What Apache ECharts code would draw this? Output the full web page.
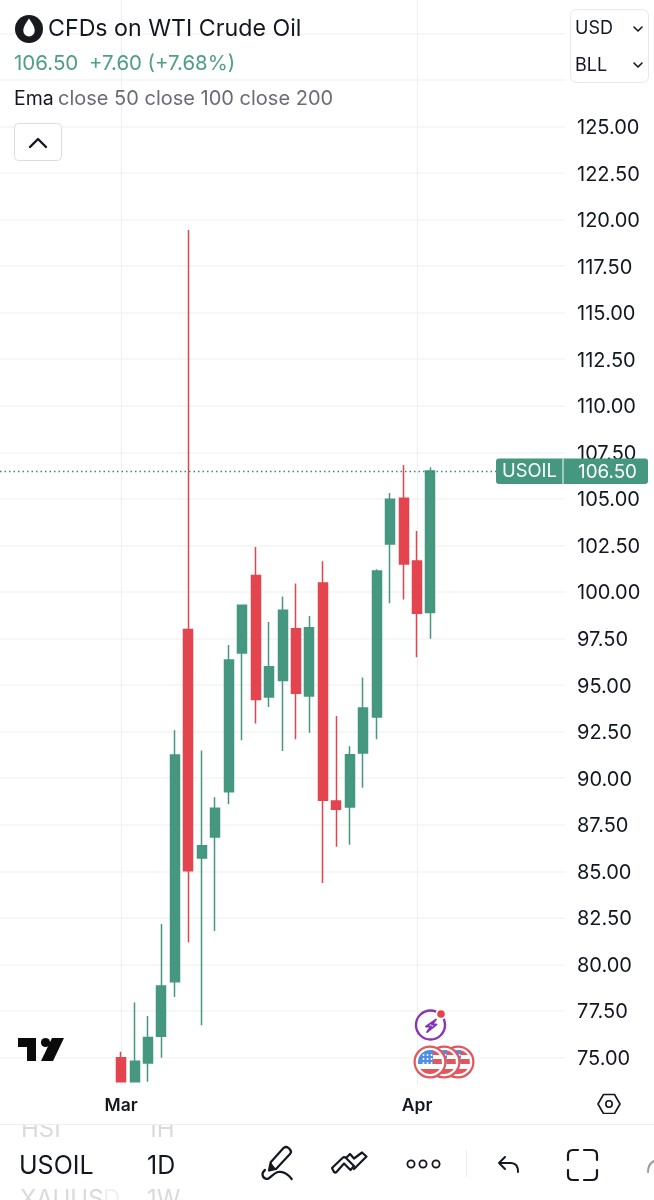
<!DOCTYPE html>
<html>
<head>
<meta charset="utf-8">
<title>USOIL 1D</title>
<style>
html, body { margin: 0; padding: 0; background: #fff; }
#chart { width: 654px; height: 1200px; }
</style>
<script src="https://cdn.jsdelivr.net/npm/echarts@6/dist/echarts.min.js"></script>
</head>
<body>
<div id="chart"></div>
<script>
// daily candles
var dates = ['03-02','03-03','03-04','03-05','03-06','03-09','03-10','03-11','03-12','03-13','03-16','03-17',
             '03-18','03-19','03-20','03-23','03-24','03-25','03-26','03-27','03-30','03-31','04-01','04-02'];
var opens  = [74.99,73.70,74.70,76.14,79.07,97.98,85.71,86.84,89.27,96.72,100.88,94.36,
              95.24,98.03,94.41,100.48,88.78,88.45,91.35,93.29,102.58,105.03,101.66,98.90];
var closes = [73.70,74.80,76.08,78.84,91.25,85.03,86.37,88.38,96.35,99.29,94.22,95.99,
              99.02,94.56,98.08,88.81,88.33,91.26,93.77,101.13,104.98,101.50,98.86,106.50];
var lows   = [73.70,73.70,73.70,74.99,78.25,81.19,76.73,81.79,88.60,92.04,92.93,93.82,
              91.46,92.09,92.44,84.37,86.32,86.43,89.49,92.09,99.39,99.59,96.49,97.49];
var highs  = [75.31,77.96,77.23,82.17,92.57,119.44,91.48,88.97,97.15,99.29,102.42,98.39,
              99.75,100.45,98.71,101.65,93.34,91.71,95.40,101.22,105.32,106.82,103.28,106.70];

var priceLabels = [75,77.5,80,82.5,85,87.5,90,92.5,95,97.5,100,102.5,105,107.5,110,112.5,115,117.5,120,122.5,125];
var gridLevels = priceLabels.concat([127.5,130]);
var monthTicks = { '03-02': 'Mar', '04-01': 'Apr' };
var lastPrice = 106.50;

var GREEN = '#45977f';
var RED = '#e4444e';
var INK = '#131722';
var FONT = 'Inter, "Noto Sans", sans-serif';

// empty days left and right of the candles
var padLeft = 9, padRight = 10;
var categories = [];
var i;
for (i = 0; i < padLeft; i++) categories.push('l' + i);
categories = categories.concat(dates);
for (i = 0; i < padRight; i++) categories.push('r' + i);

var candles = [];
for (i = 0; i < dates.length; i++) {
    candles.push([opens[i], closes[i], lows[i], highs[i]]);
}

function text(str, x, y, size, fill, opt) {
    opt = opt || {};
    return {
        type: 'text', z: opt.z || 10,
        style: {
            text: str, x: x, y: y, fill: fill,
            font: (opt.weight || 400) + ' ' + size + 'px ' + FONT,
            textAlign: opt.align || 'left', textVerticalAlign: 'middle'
        }
    };
}

// the graphic component has no path type, so every icon path gets its own shape
var shapeCount = 0;
function pathShape(path) {
    var name = 'icon' + (shapeCount++);
    echarts.graphic.registerShape(name, echarts.graphic.extendPath(path, {}));
    return name;
}
function stroke(path, color, width) {
    return {
        type: pathShape(path), z: 10,
        style: { fill: 'none', stroke: color, lineWidth: width, lineCap: 'round', lineJoin: 'round' }
    };
}
function solid(path, color, z) {
    return { type: pathShape(path), z: z || 10, style: { fill: color } };
}
function box(x, y, w, h, r, fill, line, z) {
    return {
        type: 'rect', z: z || 9, shape: { x: x, y: y, width: w, height: h, r: r },
        style: { fill: fill, stroke: line || 'none', lineWidth: 1 }
    };
}
function circle(cx, cy, r, fill, line, width, z) {
    return {
        type: 'circle', z: z || 10, shape: { cx: cx, cy: cy, r: r },
        style: { fill: fill, stroke: line || 'none', lineWidth: width || 1 }
    };
}

// one american flag coin of the calendar stack
function flag(cx, cy, z) {
    var out = [];
    out.push(circle(cx, cy, 15.4, '#fff', '#e2565c', 2.2, z));
    out.push(solid('M' + (cx - 9.75) + ' ' + (cy + 7) + 'A12 12 0 0 0 ' + (cx + 9.75) + ' ' + (cy + 7) + 'Z', '#e2565c', z));
    out.push(solid('M' + cx + ' ' + (cy - 12) + 'A12 12 0 0 1 ' + (cx + 9.75) + ' ' + (cy - 7) + 'H' + cx + 'Z', '#e2565c', z));
    out.push(solid('M' + cx + ' ' + (cy - 3) + 'H' + (cx + 11.6) + 'L' + (cx + 11.85) + ' ' + (cy + 2) + 'H' + cx + 'Z', '#e2565c', z));
    out.push(solid('M' + (cx + 3) + ' ' + (cy + 2) + 'H' + (cx - 11.85) + 'A12 12 0 0 1 ' + (cx + 3) + ' ' + (cy - 11.6) + 'Z', '#4f8ee0', z));
    var r, c;
    for (r = 0; r < 3; r++) {
        for (c = 0; c < 3; c++) {
            out.push(circle(cx - 6.5 + c * 4, cy - 7 + r * 4, 1, '#fff', null, 0, z));
        }
    }
    return out;
}

var chrome = [
    // header
    circle(29, 29, 14, '#181a20'),
    solid('M29 18.5C25.5 23.5 23.3 27 23.3 30.5A5.7 5.9 0 0 0 34.7 30.5C34.7 27 32.5 23.5 29 18.5Z', '#fff', 11),
    text('CFDs on WTI Crude Oil', 48, 29.5, 23.2, INK),
    text('106.50', 14, 64, 20.5, '#4f9e86'),
    text('+7.60 (+7.68%)', 89, 64, 20.4, '#4f9e86'),
    text('Ema', 14, 99, 19.5, INK),
    text('close 50 close 100 close 200', 58, 99, 20, '#6a6d78'),
    box(14.5, 123.5, 47, 37, 4, '#fff', '#dcdde0'),
    stroke('M30 147L38 139L46 147', INK, 2.4),
    // currency and unit switch
    box(570.5, 9.5, 78, 73, 6, '#fff', '#e6e7ea'),
    text('USD', 575, 28.5, 18, INK),
    text('BLL', 575, 65.5, 18, INK),
    stroke('M634 27L638 31L642 27', INK, 1.6),
    stroke('M634 63L638 67L642 63', INK, 1.6),
    // tradingview mark
    solid('M18 1038H36V1061H27V1047H18Z', '#0b0b0b'),
    circle(45.5, 1042.5, 4.6, '#0b0b0b'),
    solid('M52 1038H64L53 1061H41Z', '#0b0b0b'),
    // news badge
    circle(430.5, 1025, 14.5, '#fff', '#8a34b8', 2.4),
    stroke('M436 1019.5L426 1026.5H431L427 1032L436.5 1024.5H432Z', '#7b35b5', 1.8),
    circle(441, 1014, 5.5, '#fff', null, 0, 12),
    circle(441, 1014, 3.8, '#e4444e', null, 0, 13),
    // settings under the price scale
    stroke('M598 1104L603.5 1094.5H614.5L620 1104L614.5 1113.5H603.5Z', INK, 1.6),
    circle(609, 1104, 3.2, '#fff', INK, 1.6),
    // toolbar
    text('HSI', 21, 1130, 24, '#dadadd'),
    text('1H', 147, 1130, 24, '#dadadd'),
    box(0, 1114, 654, 10.5, 0, '#fff', null, 11),
    { type: 'line', z: 12, shape: { x1: 0, y1: 1124.5, x2: 654, y2: 1124.5 }, style: { stroke: '#eeeeee', lineWidth: 1 } },
    text('USOIL', 19, 1166, 25, INK),
    text('1D', 147, 1166, 25, INK),
    // the wheel fades out towards its edge
    text('XAUUS', 20, 1200, 24, '#dadadd'),
    text('D', 103, 1200, 24, '#f0f0f2'),
    text('1W', 147, 1200, 24, '#dadadd'),
    // pen and squiggle
    stroke('M270.7 1162.3L283.5 1148Q286 1146 288.5 1148L290 1149.5Q292 1152 290 1154L276 1169L269 1170.5Z', INK, 2.2),
    solid('M270.7 1162.3L276 1169L269 1170.5Z', INK),
    stroke('M265 1170C261 1173 262 1178 266.7 1179C270 1179 273 1173 278 1172C283 1171 288 1174 291.7 1179', INK, 2.2),
    // pattern tool
    stroke('M332 1168L343 1157.5Q344.5 1156.5 346 1158L354 1166L350.5 1170L344 1163.5L336.5 1172Q335.5 1173 334 1172Z', INK, 2.2),
    stroke('M347 1157L350 1154L354 1158.5L362 1152.5L366.5 1156.5L354 1169', INK, 2.2),
    circle(411, 1164, 3.6, '#fff', INK, 1.8),
    circle(423, 1164, 3.6, '#fff', INK, 1.8),
    circle(436, 1164, 3.6, '#fff', INK, 1.8),
    { type: 'line', z: 10, shape: { x1: 466.5, y1: 1150, x2: 466.5, y2: 1177 }, style: { stroke: '#eeeeee', lineWidth: 1 } },
    stroke('M505 1157L499 1163L505 1169 M499 1163H511Q518 1163 518 1172', INK, 2),
    stroke('M568 1160V1155Q568 1150 573 1150H578 M584 1150H592Q597 1150 597 1155V1160 M568 1170V1175Q568 1180 573 1180H578 M584 1180H592Q597 1180 597 1175V1170', INK, 2.2),
    stroke('M648 1172Q648 1164 654 1161', '#9a9ca3', 2)
];
chrome = chrome.concat(flag(458, 1062, 10), flag(444, 1062, 11), flag(430, 1062, 12));

var chart = echarts.init(document.getElementById('chart'), null, { renderer: 'canvas' });

// candlestick expects one row per category, so the padding days stay empty
var rows = [];
for (i = 0; i < categories.length; i++) {
    rows.push(i >= padLeft && i < padLeft + dates.length ? candles[i - padLeft] : '-');
}

chart.setOption({
    animation: false,
    backgroundColor: '#fff',
    grid: { left: 0, right: 89, top: 0, bottom: 115, outerBoundsMode: 'none' },
    xAxis: {
        type: 'category',
        data: categories,
        boundaryGap: false,
        axisLine: { show: false },
        axisTick: { show: false },
        axisLabel: {
            interval: 0, margin: 12, color: INK, fontFamily: FONT, fontSize: 17.5, fontWeight: 600,
            formatter: function (v) { return monthTicks[v] || ''; }
        },
        splitLine: {
            show: true,
            interval: function (idx, v) { return !!monthTicks[v]; },
            lineStyle: { color: '#eeeef1', width: 1 }
        }
    },
    yAxis: {
        type: 'value',
        position: 'right',
        min: 73.523,
        max: 131.79,
        scale: true,
        axisLine: { show: false },
        axisTick: { show: false, customValues: gridLevels },
        axisLabel: {
            // a short line box under the tick drops the digits onto the grid line
            customValues: priceLabels, margin: 12, color: INK, fontFamily: FONT, fontSize: 20,
            verticalAlign: 'top', lineHeight: 3,
            formatter: function (v) { return v.toFixed(2); }
        },
        splitLine: { show: true, lineStyle: { color: '#f4f4f5', width: 1.5 } }
    },
    series: [{
        type: 'candlestick',
        data: rows,
        barWidth: 9.5,
        clip: false,
        itemStyle: { color: GREEN, color0: RED, borderColor: GREEN, borderColor0: RED, borderWidth: 1.5 },
        markLine: {
            silent: true, symbol: 'none', animation: false,
            label: { show: false },
            lineStyle: { color: '#2f8f76', type: [1.5, 3], width: 1.4 },
            data: [{ yAxis: lastPrice }]
        }
    }]
});

// symbol and price tag sit on the last price
var tagY = chart.convertToPixel({ yAxisIndex: 0 }, lastPrice);
var tag = [
    box(496, tagY - 12.5, 152, 25.5, 3, GREEN),
    { type: 'line', z: 10, shape: { x1: 563, y1: tagY - 12.5, x2: 563, y2: tagY + 13 }, style: { stroke: '#fff', lineWidth: 1 } },
    text('USOIL', 529.5, tagY + 1, 18.4, '#fff', { align: 'center', z: 11 }),
    text(lastPrice.toFixed(2), 607.5, tagY + 1, 18.8, '#fff', { align: 'center', z: 11 })
];
chart.setOption({ graphic: chrome.concat(tag) });
</script>
</body>
</html>
